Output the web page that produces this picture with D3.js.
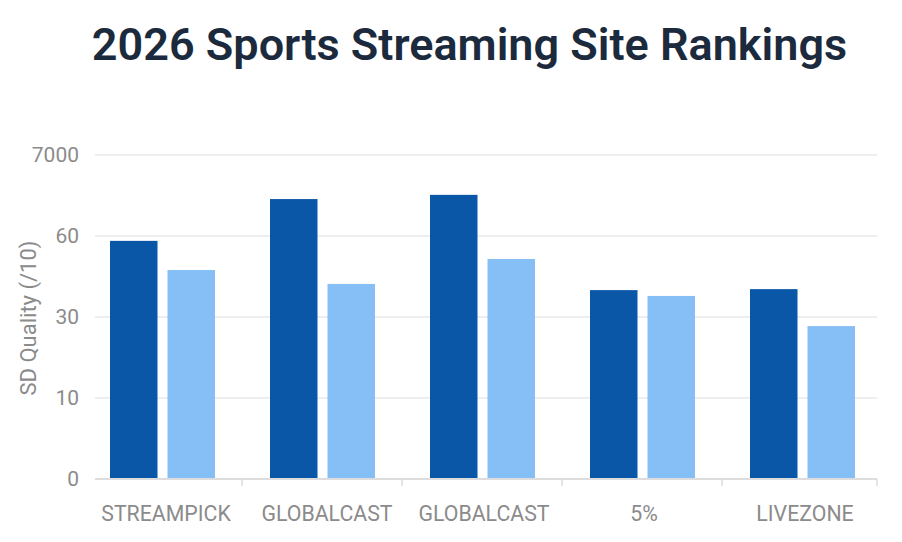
<!DOCTYPE html>
<html>
<head>
<meta charset="utf-8">
<script src="https://cdn.jsdelivr.net/npm/d3@7"></script>
<style>
  html, body { margin: 0; padding: 0; background: #fff; }
  text { font-family: Roboto, sans-serif; }
</style>
</head>
<body>
<div id="chart"></div>
<script>
// Chart data
const categories = ['STREAMPICK', 'GLOBALCAST', 'GLOBALCAST', '5%', 'LIVEZONE'];
const seriesNames = ['first', 'second'];
const firstValues = [73.5, 86.4, 87.7, 58.3, 58.6];
const secondValues = [64.5, 60.2, 67.9, 56.5, 47.2];

// The axis prints uneven labels on evenly spaced lines
const tickPositions = [0, 25, 50, 75, 100];
const tickLabels = ['0', '10', '30', '60', '7000'];

const titleText = '2026 Sports Streaming Site Rankings';
const yTitle = 'SD Quality (/10)';

const width = 902;
const height = 542;
const margin = { top: 155, right: 20, bottom: 63, left: 82 };

const colors = { first: '#0a57a8', second: '#86bff5' };

// Labels are not quite centred under their groups in the original
const labelNudge = [4, 5, 2, 2, 3];

const svg = d3.select('#chart').append('svg')
  .attr('width', width)
  .attr('height', height)
  .style('display', 'block');

// Two groups share a name, so the band scale runs on the index
const x0 = d3.scaleBand()
  .domain(d3.range(categories.length))
  .range([margin.left, width - margin.right]);

const x1 = d3.scaleBand()
  .domain(seriesNames)
  .range([28, 133])
  .paddingInner(0.174);

const y = d3.scaleLinear()
  .domain([0, 100])
  .range([height - margin.bottom, margin.top]);

// Title
svg.append('text')
  .attr('x', 469.5)
  .attr('y', 60)
  .attr('text-anchor', 'middle')
  .attr('font-size', 45)
  .attr('font-weight', 600)
  .attr('fill', '#1c2a3d')
  .text(titleText);

// Gridlines and left labels
const yAxis = svg.append('g')
  .attr('transform', `translate(${margin.left},0)`)
  .call(d3.axisLeft(y)
    .tickValues(tickPositions)
    .tickFormat((d, i) => tickLabels[i])
    .tickSize(0)
    .tickPadding(3));

yAxis.select('.domain').remove();
yAxis.selectAll('text')
  .attr('font-size', 21)
  .attr('fill', '#8b8b8b');

svg.append('g')
  .selectAll('line')
  .data(tickPositions.filter((d) => d > 0))
  .join('line')
  .attr('x1', 95)
  .attr('x2', 877)
  .attr('y1', (d) => y(d))
  .attr('y2', (d) => y(d))
  .attr('stroke', '#eeeeee')
  .attr('stroke-width', 2);

// Bars
const rows = categories.map((name, i) => ({
  index: i,
  first: firstValues[i],
  second: secondValues[i],
}));

svg.append('g')
  .selectAll('g')
  .data(rows)
  .join('g')
  .attr('transform', (d) => `translate(${x0(d.index)},0)`)
  .selectAll('rect')
  .data((d) => seriesNames.map((key) => ({ key, value: d[key] })))
  .join('rect')
  .attr('x', (d) => x1(d.key))
  .attr('y', (d) => y(d.value))
  .attr('width', x1.bandwidth())
  .attr('height', (d) => y(0) - y(d.value))
  .attr('fill', (d) => colors[d.key]);

// Bottom axis
const xAxis = svg.append('g')
  .attr('transform', `translate(0,${y(0)})`)
  .call(d3.axisBottom(x0)
    .tickFormat((i) => categories[i])
    .tickSize(0)
    .tickPadding(27));

xAxis.select('.domain').remove();
xAxis.selectAll('text')
  .attr('font-size', 21.3)
  .attr('fill', '#8b8b8b')
  .attr('dx', (i) => labelNudge[i]);

svg.append('line')
  .attr('x1', 95)
  .attr('x2', 877)
  .attr('y1', y(0))
  .attr('y2', y(0))
  .attr('stroke', '#dddddd')
  .attr('stroke-width', 2);

// Small dividers between groups, plus one closing the axis
const dividers = d3.range(1, categories.length).map((i) => x0(i)).concat(877);

svg.append('g')
  .selectAll('line')
  .data(dividers)
  .join('line')
  .attr('x1', (d) => d)
  .attr('x2', (d) => d)
  .attr('y1', y(0))
  .attr('y2', y(0) + 7)
  .attr('stroke', '#dddddd')
  .attr('stroke-width', 1.5);

// Rotated axis title
svg.append('text')
  .attr('transform', 'translate(36,318) rotate(-90)')
  .attr('text-anchor', 'middle')
  .attr('font-size', 22)
  .attr('fill', '#8b8b8b')
  .text(yTitle);
</script>
</body>
</html>
